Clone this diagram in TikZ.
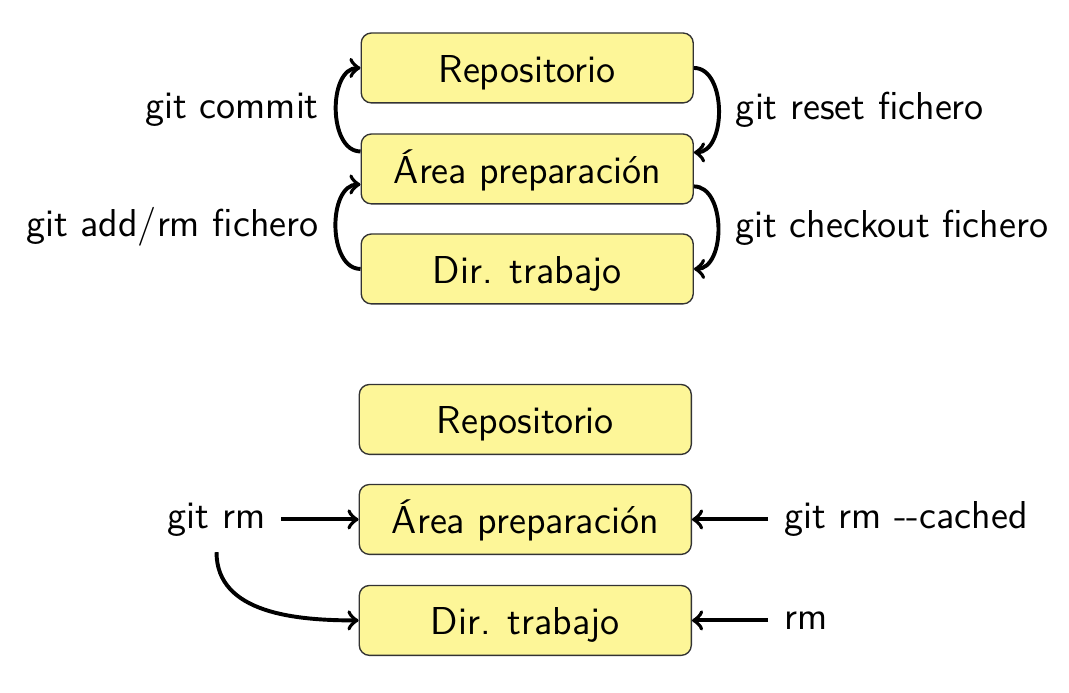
\documentclass[tikz,border=0pt]{standalone}
\usepackage{tikz}

\begin{document}
\begin{tikzpicture}[font=\sffamily\fontsize{11.4}{13}\selectfont]
\tikzstyle{zona} = [draw=black!80,fill={rgb,255:red,253;green,246;blue,152},rounded corners=3pt,minimum width=3.42cm,minimum height=0.72cm,inner ysep=2pt,text height=10.8pt,text depth=2.4pt];
\tikzstyle{cmd} = [inner sep=4.5pt];
\tikzstyle{accion} = [->,line width=1.15pt];
\useasboundingbox (0,0) rectangle (11.01,-7.128);

% estados y ordenes git
\node [zona] (repo1) at (5.43,-0.70) {Repositorio};
\node [zona] (area1) at (5.43,-1.74) {Área preparación};
\node [zona] (dir1) at (5.43,-2.77) {Dir. trabajo};
\draw [accion] ([yshift=0.18cm]area1.west) to[out=180,in=180] node[cmd,left] {git commit} (repo1.west);
\draw [accion] (dir1.west) to[out=180,in=180] node[cmd,left] {git add/rm fichero} ([yshift=-0.16cm]area1.west);
\draw [accion] (repo1.east) to[out=0,in=0] node[cmd,right] {git reset fichero} ([yshift=0.17cm]area1.east);
\draw [accion] ([yshift=-0.18cm]area1.east) to[out=0,in=0] node[cmd,right] {git checkout fichero} (dir1.east);

% borrado de ficheros
\node [zona] (repo2) at (5.41,-4.32) {Repositorio};
\node [zona] (area2) at (5.41,-5.35) {Área preparación};
\node [zona] (dir2) at (5.41,-6.39) {Dir. trabajo};
\node [cmd] (gitrm) at (2.23,-5.35) {git rm};
\node [cmd,anchor=west] (cached) at (7.91,-5.35) {git rm -{}-cached};
\node [cmd,anchor=west] (rm) at (7.91,-6.39) {rm};
\draw [accion] (gitrm) -- (area2);
\draw [accion] (gitrm) to[out=-90,in=180] (dir2);
\draw [accion] (cached) -- (area2);
\draw [accion] (rm) -- (dir2);
\end{tikzpicture}
\end{document}
